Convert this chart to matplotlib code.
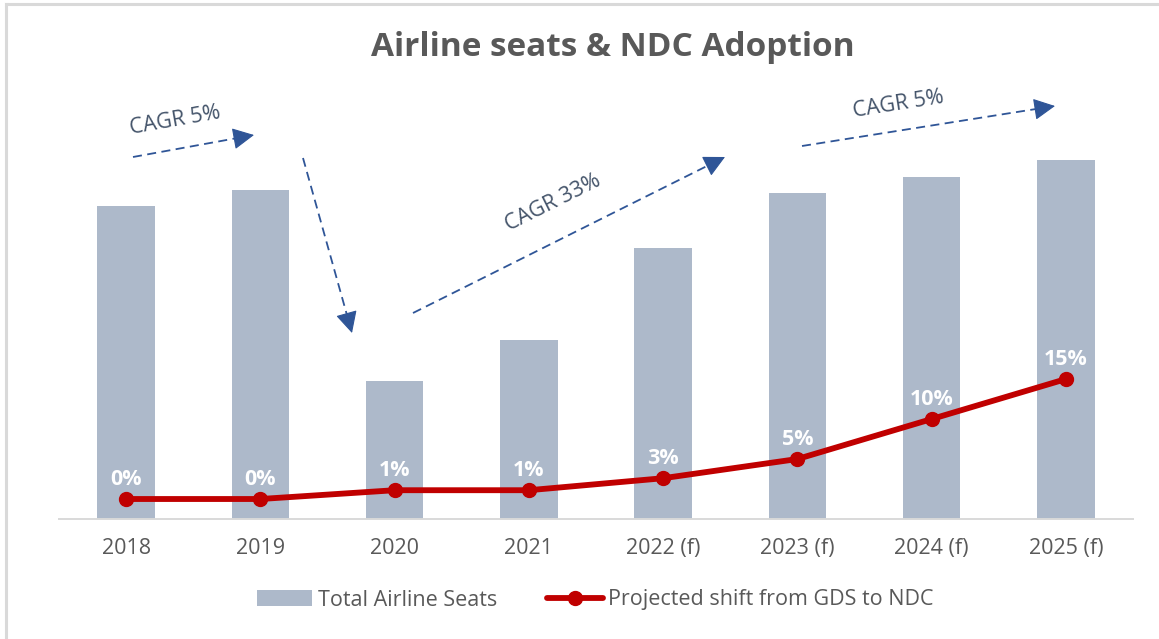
import matplotlib
matplotlib.use("Agg")
import matplotlib.pyplot as plt
from matplotlib.lines import Line2D
from matplotlib.patches import FancyArrowPatch
import numpy as np

# ---------------- data ----------------
categories = ["2018", "2019", "2020", "2021", "2022 (f)", "2023 (f)", "2024 (f)", "2025 (f)"]
total_seats = [4.28, 4.50, 1.89, 2.45, 3.71, 4.46, 4.68, 4.91]          # billions (estimated)
ndc_shift = [0.0, 0.0, 1.1, 1.1, 2.6, 5.0, 10.0, 15.0]                  # percent
cagr_labels = ["CAGR 5%", "CAGR 33%", "CAGR 5%"]

# ---------------- style ----------------
FONT = "Open Sans"
plt.rcParams["font.family"] = [FONT, "DejaVu Sans"]
BAR_COLOR = "#ADB9CA"
LINE_COLOR = "#C00000"
ARROW_COLOR = "#2F5597"
CAGR_TEXT = "#44546A"
GRAY_TEXT = "#595959"
AXIS_GRAY = "#D9D9D9"

W, H = 1159, 639
fig = plt.figure(figsize=(W / 100, H / 100), dpi=100)

def fx(px):
    return px / W

def fy(py):
    return 1 - py / H

ax_left, ax_right, ax_bottom, ax_top = 59, 1133, 519, 100
ax = fig.add_axes([fx(ax_left), fy(ax_bottom), fx(ax_right - ax_left), (ax_bottom - ax_top) / H])

x = np.arange(len(categories))
bars = ax.bar(x, total_seats, width=0.43, color=BAR_COLOR, zorder=2, label="Total Airline Seats")
ax.set_xlim(-0.5, len(categories) - 0.5)
ax.set_ylim(0, 5.73)
ax.set_yticks([])
ax.set_xticks(x)
ax.set_xticklabels(categories, fontsize=15.5, color=GRAY_TEXT)
ax.tick_params(axis="x", length=0, pad=14)
for s in ["left", "right", "top"]:
    ax.spines[s].set_visible(False)
ax.spines["bottom"].set_color(AXIS_GRAY)
ax.spines["bottom"].set_linewidth(1.4)

ax2 = ax.twinx()
ax2.set_ylim(-2.5, 49.9)
ax2.set_yticks([])
for s in ["left", "right", "top", "bottom"]:
    ax2.spines[s].set_visible(False)
line, = ax2.plot(x, ndc_shift, color=LINE_COLOR, lw=4.2, marker="o", markersize=10,
                 zorder=3, label="Projected shift from GDS to NDC", solid_capstyle="round")
for xi, v in zip(x, ndc_shift):
    ax2.annotate(f"{v:.0f}%", (xi, v), xytext=(0, 14), textcoords="offset points",
                 ha="center", va="center", fontsize=15.5, fontweight="bold", color="white")

# ---------------- title ----------------
fig.text(fx(613), fy(47), "Airline seats & NDC Adoption", ha="center", va="center",
         fontsize=24, fontweight="bold", color=GRAY_TEXT)

# ---------------- CAGR arrows ----------------
arrows = [((133, 157), (254, 135)),
          ((303, 158), (352, 333)),
          ((413, 313), (725, 157)),
          ((802, 146), (1055, 106))]
for (tx, ty), (hx, hy) in arrows:
    d = np.hypot(hx - tx, hy - ty)
    ux, uy = (hx - tx) / d, (hy - ty) / d
    # dashed shaft up to the head base
    bx, by = hx - ux * 12, hy - uy * 12
    fig.add_artist(Line2D([fx(tx), fx(bx)], [fy(ty), fy(by)], color=ARROW_COLOR, lw=1.3,
                          linestyle=(0, (5, 3)), transform=fig.transFigure))
    # solid triangular head
    sx, sy = hx - ux * 14, hy - uy * 14
    fig.add_artist(FancyArrowPatch((fx(sx), fy(sy)), (fx(hx), fy(hy)), transform=fig.transFigure,
                                   arrowstyle="-|>,head_length=0.75,head_width=0.38",
                                   mutation_scale=18, color=ARROW_COLOR, lw=0.8,
                                   shrinkA=0, shrinkB=0))

cagr_pos = [((175, 121), 10), ((553, 203), 26.5), ((898, 104), 9)]
for label, ((cx, cy), rot) in zip(cagr_labels, cagr_pos):
    fig.text(fx(cx), fy(cy), label, ha="center", va="center", rotation=rot,
             rotation_mode="anchor", fontsize=15.5, color=CAGR_TEXT)

# ---------------- legend ----------------
leg = fig.legend(handles=[bars, line], loc="center", bbox_to_anchor=(fx(595), fy(600)),
                 ncol=2, frameon=False, fontsize=15.5, handlelength=2.6, handletextpad=0.25,
                 columnspacing=2.3, labelcolor=GRAY_TEXT)

# ---------------- chart border (top & left) ----------------
fig.add_artist(Line2D([fx(6), 1], [fy(4), fy(4)], color=AXIS_GRAY, lw=2.2, transform=fig.transFigure))
fig.add_artist(Line2D([fx(6), fx(6)], [fy(4), 0], color=AXIS_GRAY, lw=2.2, transform=fig.transFigure))

fig.savefig("out.png", dpi=100)
